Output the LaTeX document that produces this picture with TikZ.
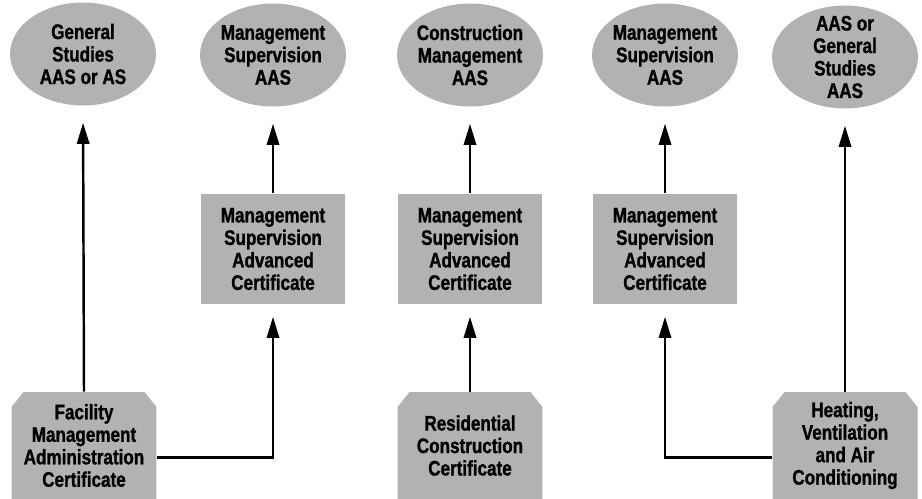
\documentclass[tikz,border=0pt]{standalone}
\usepackage{fontspec}
\setmainfont[FakeStretch=0.81, BoldFeatures={FakeBold=1.2}]{Liberation Sans}
\usetikzlibrary{positioning, calc, arrows.meta, shapes.geometric}

\begin{document}
\begin{tikzpicture}[x=0.02cm, y=-0.02cm,
    font=\fontsize{12}{12.8}\selectfont\bfseries,
    degree/.style={ellipse, fill=black!30, minimum width=2.92cm, minimum height=2.06cm,
        inner sep=-8pt, align=center},
    advcert/.style={rectangle, fill=black!30, minimum width=2.88cm, minimum height=2.22cm,
        inner sep=0pt, align=center},
    entry/.style={rectangle, minimum width=2.9cm, minimum height=2.14cm, inner sep=0pt,
        align=center,
        path picture={\fill[black!30]
            ([yshift=-0.3cm]path picture bounding box.north west)
            -- ([xshift=0.24cm]path picture bounding box.north west)
            -- ([xshift=-0.24cm]path picture bounding box.north east)
            -- ([yshift=-0.3cm]path picture bounding box.north east)
            |- (path picture bounding box.south west) -- cycle;}},
    link/.style={line width=1.4pt, -{Triangle[length=12pt, width=7pt]}}
]
    \useasboundingbox (0,0) rectangle (922,499);

    % degrees
    \node[degree] (gs)  at (83,54)  {General\\Studies\\AAS or AS};
    \node[degree] (ms1) at (273,55) {Management\\Supervision\\AAS};
    \node[degree] (cm)  at (470,55) {Construction\\Management\\AAS};
    \node[degree] (ms2) at (665,55) {Management\\Supervision\\AAS};
    \node[degree] (ags) at (845,57) {AAS or\\General\\Studies\\AAS};

    % advanced certificates
    \node[advcert] (msac1) at (273,249) {Management\\Supervision\\Advanced\\Certificate};
    \node[advcert] (msac2) at (470,249) {Management\\Supervision\\Advanced\\Certificate};
    \node[advcert] (msac3) at (665,249) {Management\\Supervision\\Advanced\\Certificate};

    % entry certificates
    \node[entry] (fac)  at (84,445.5)  {Facility\\Management\\Administration\\Certificate};
    \node[entry] (res)  at (470,445.5) {Residential\\Construction\\Certificate};
    \node[entry] (hvac) at (845,445.5) {Heating,\\Ventilation\\and Air\\Conditioning};

    % facility paths
    \draw[link, shorten >=0.34cm] (fac.north) -- (gs.south);
    \draw[link, shorten >=0.24cm] ($(fac.east)+(0,12)$) -| (msac1.south);
    \draw[link, shorten >=0.34cm] (msac1.north) -- (ms1.south);

    % residential path
    \draw[link, shorten >=0.24cm] (res.north) -- (msac2.south);
    \draw[link, shorten >=0.34cm] (msac2.north) -- (cm.south);

    % hvac paths
    \draw[link, shorten >=0.24cm] ($(hvac.west)+(0,12)$) -| (msac3.south);
    \draw[link, shorten >=0.34cm] (msac3.north) -- (ms2.south);
    \draw[link, shorten >=0.34cm] (hvac.north) -- (ags.south);

\end{tikzpicture}
\end{document}
